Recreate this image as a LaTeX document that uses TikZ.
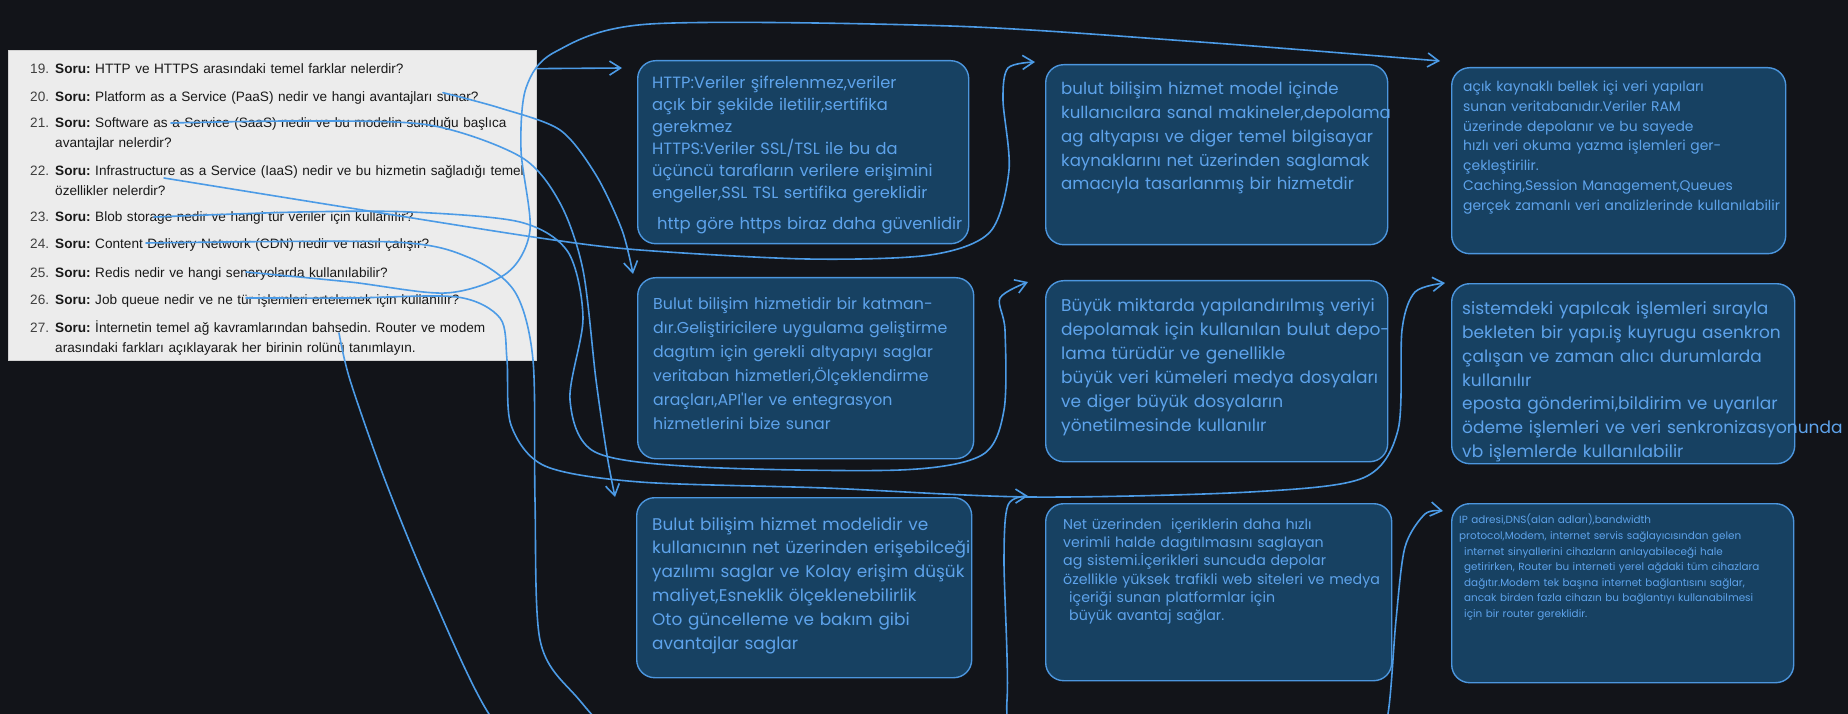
\documentclass[tikz,border=0pt]{standalone}
\usepackage{fontspec}
\setmainfont{Liberation Sans}
\newfontfamily\handfont{Poppins}
\usetikzlibrary{arrows.meta}
\frenchspacing

\definecolor{canvas}{HTML}{121419}
\definecolor{sheet}{HTML}{ECECEC}
\definecolor{boxfill}{HTML}{174162}
\definecolor{boxline}{HTML}{4C96DE}
\definecolor{handink}{HTML}{5EA3EB}
\definecolor{linkblue}{HTML}{4C9BE6}

\tikzset{
  paper/.style={draw=black!18, fill=sheet, line width=0.8pt, anchor=north west, inner sep=0pt},
  qnum/.style={text=black!75, anchor=base west, inner sep=0pt, font=\fontsize{13.6}{20}\selectfont},
  qtext/.style={text=black!90, anchor=base west, align=left, text width=520pt, inner sep=0pt, font=\fontsize{13.6}{20}\selectfont},
  answer/.style={draw=boxline, fill=boxfill, line width=1.4pt, rounded corners=18pt, anchor=north west, inner sep=0pt},
  hand/.style={text=handink, anchor=base west, align=left, text width=440pt, inner sep=0pt},
  link/.style={draw=linkblue, line width=1.6pt, line cap=round, -{Straight Barb[length=11pt,width=14pt]}},
}

\newcommand{\QUESTION}[4]{
  \node[qnum] (#1 num) at (30,#2) {#3.};
  \node[qtext] (#1) at (55,#2) {\textbf{Soru:} #4};
}
\newcommand{\ANSWER}[7]{
  \node[answer, minimum width=#3pt, minimum height=#4pt] (#1) at #2 {};
  \node[hand, font=\handfont#5] (#1 text) at #6 {#7};
}

\begin{document}
\begin{tikzpicture}[x=1pt,y=-1pt]
  \useasboundingbox (0,0) rectangle (1848,714);
  \fill[canvas] (0,0) rectangle (1848,714);
  \clip (0,0) rectangle (1848,714);

  \node[paper, minimum width=528pt, minimum height=310pt] (panel) at (8,50) {};
  \QUESTION{q19}{73.5}{19}{HTTP ve HTTPS arasındaki temel farklar nelerdir?}
  \QUESTION{q20}{101.7}{20}{Platform as a Service (PaaS) nedir ve hangi avantajları sunar?}
  \QUESTION{q21}{128}{21}{Software as a Service (SaaS) nedir ve bu modelin sunduğu başlıca\\avantajlar nelerdir?}
  \QUESTION{q22}{176}{22}{Infrastructure as a Service (IaaS) nedir ve bu hizmetin sağladığı temel\\özellikler nelerdir?}
  \QUESTION{q23}{222}{23}{Blob storage nedir ve hangi tür veriler için kullanılır?}
  \QUESTION{q24}{249}{24}{Content Delivery Network (CDN) nedir ve nasıl çalışır?}
  \QUESTION{q25}{277}{25}{Redis nedir ve hangi senaryolarda kullanılabilir?}
  \QUESTION{q26}{304}{26}{Job queue nedir ve ne tür işlemleri ertelemek için kullanılır?}
  \QUESTION{q27}{332}{27}{İnternetin temel ağ kavramlarından bahsedin. Router ve modem\\arasındaki farkları açıklayarak her birinin rolünü tanımlayın.}

  \ANSWER{http}{(637,60)}{331}{183}{\fontsize{16.3}{22}\selectfont}{(652,88.2)}{HTTP:Veriler şifrelenmez,veriler\\açık bir şekilde iletilir,sertifika\\gerekmez\\HTTPS:Veriler SSL/TSL ile bu da\\üçüncü tarafların verilere erişimini\\engeller,SSL TSL sertifika gereklidir}
  \node[hand, font=\handfont\fontsize{16.4}{20}\selectfont] (http note) at (657,229.9) {http göre https biraz daha güvenlidir};
  \ANSWER{paas}{(637,277)}{336}{181}{\fontsize{15.8}{24}\selectfont}{(653,309.7)}{Bulut bilişim hizmetidir bir katman-\\dır.Geliştiricilere uygulama geliştirme\\dagıtım için gerekli altyapıyı saglar\\veritaban hizmetleri,Ölçeklendirme\\araçları,API'ler ve entegrasyon\\hizmetlerini bize sunar}
  \ANSWER{saas}{(636,497)}{335}{180}{\fontsize{16.9}{23.8}\selectfont}{(652,530.1)}{Bulut bilişim hizmet modelidir ve\\kullanıcının net üzerinden erişebilceği\\yazılımı saglar ve Kolay erişim düşük\\maliyet,Esneklik ölçeklenebilirlik\\Oto güncelleme ve bakım gibi\\avantajlar saglar}

  \ANSWER{iaas}{(1045,64)}{342}{180}{\fontsize{16.6}{23.7}\selectfont}{(1061,95)}{bulut bilişim hizmet model içinde\\kullanıcılara sanal makineler,depolama\\ag altyapısı ve diger temel bilgisayar\\kaynaklarını net üzerinden saglamak\\amacıyla tasarlanmış bir hizmetdir}
  \ANSWER{blob}{(1045,280)}{342}{181}{\fontsize{17}{23.9}\selectfont}{(1061,311.8)}{Büyük miktarda yapılandırılmış veriyi\\depolamak için kullanılan bulut depo-\\lama türüdür ve genellikle\\büyük veri kümeleri medya dosyaları\\ve diger büyük dosyaların\\yönetilmesinde kullanılır}
  \ANSWER{cdn}{(1045,503)}{346}{177}{\fontsize{14.2}{18.3}\selectfont}{(1063,529.3)}{Net üzerinden~ içeriklerin daha hızlı\\verimli halde dagıtılmasını saglayan\\ag sistemi.İçerikleri suncuda depolar\\özellikle yüksek trafikli web siteleri ve medya\\\hspace*{6pt}içeriği sunan platformlar için\\\hspace*{6pt}büyük avantaj sağlar.}

  \ANSWER{redis}{(1451,67)}{334}{186}{\fontsize{13.9}{19.7}\selectfont}{(1463,91.9)}{açık kaynaklı bellek içi veri yapıları\\sunan veritabanıdır.Veriler RAM\\üzerinde depolanır ve bu sayede\\hızlı veri okuma yazma işlemleri ger-\\çekleştirilir.\\Caching,Session Management,Queues\\gerçek zamanlı veri analizlerinde kullanılabilir}
  \ANSWER{jobqueue}{(1451,283)}{343}{180}{\fontsize{17}{23.9}\selectfont}{(1462,314.4)}{sistemdeki yapılcak işlemleri sırayla\\bekleten bir yapı.iş kuyrugu asenkron\\çalışan ve zaman alıcı durumlarda\\kullanılır\\eposta gönderimi,bildirim ve uyarılar\\ödeme işlemleri ve veri senkronizasyonunda\\vb işlemlerde kullanılabilir}
  \ANSWER{internet}{(1451,503)}{342}{179}{\fontsize{10.4}{15.6}\selectfont}{(1459,523.8)}{IP adresi,DNS(alan adları),bandwidth\\protocol,Modem, internet servis sağlayıcısından gelen\\\hspace*{5pt}internet sinyallerini cihazların anlayabileceği hale\\\hspace*{5pt}getirirken, Router bu interneti yerel ağdaki tüm cihazlara\\\hspace*{5pt}dağıtır.Modem tek başına internet bağlantısını sağlar,\\\hspace*{5pt}ancak birden fazla cihazın bu bağlantıyı kullanabilmesi\\\hspace*{5pt}için bir router gereklidir.}

  \draw[link] (panel.east |- q19) -- ([shift={(-15,8)}]http.north west);
  \draw[link] plot[smooth] coordinates {([shift={(388,-9)}]q20.base west) (500,108) (560,130) (596,175) (622,230) ([shift={(-4,-3)}]paas.north west)};
  \draw[link] plot[smooth] coordinates {([shift={(116,-5)}]q21.base west) (300,121) (429,125) (521,157) (560,203) (583,270) (596,380) (607,455) ([shift={(-21,0)}]saas.north west)};
  \draw[link] plot[smooth] coordinates {([shift={(109,2)}]q22.base west) (350,208) (540,238) (640,250) (807,259) (930,255) (990,232) (1009,170) (1003,100) (1008,68) ([shift={(-10,-2)}]iaas.north west)};
  \draw[link] plot[smooth] coordinates {([shift={(99,-5)}]q23.base west) (300,212) (411,212) (520,222) (568,252) (583,318) (570,400) (595,452) (700,467) (900,470) (982,455) (1004,410) (1005,330) (1000,298) ([shift={(-17,2)}]blob.north west)};
  \draw[link] plot[smooth] coordinates {([shift={(91,-6)}]q24.base west) (393,242) (470,258) (515,292) (533,360) (535,500) (540,640) (575,695) (640,750) (820,790) (990,760) (1007,700) (1004,560) (1008,505) ([shift={(-17,-7)}]cdn.north west)};
  \draw[link] plot[smooth] coordinates {([shift={(191,-5)}]q25.base west) (350,282) (446,293) (507,273) (530,230) (521,150) (526,88) (555,52) (650,24) (950,26) (1200,42) ([shift={(-11,-6)}]redis.north west)};
  \draw[link] plot[smooth] coordinates {([shift={(191,-6)}]q26.base west) (350,298) (457,297) (500,318) (507,360) (511,425) (545,466) (640,482) (825,488) (1030,497) (1250,492) (1363,478) (1398,430) (1402,330) (1415,292) ([shift={(-6,0)}]jobqueue.north west)};
  \draw[link] plot[smooth] coordinates {([shift={(284,1)}]q27.base west) (350,380) (385,480) (430,590) (489,714) (560,790) (1000,820) (1370,790) (1388,714) (1396,620) (1405,547) (1425,514) ([shift={(-8,8)}]internet.north west)};
\end{tikzpicture}
\end{document}
